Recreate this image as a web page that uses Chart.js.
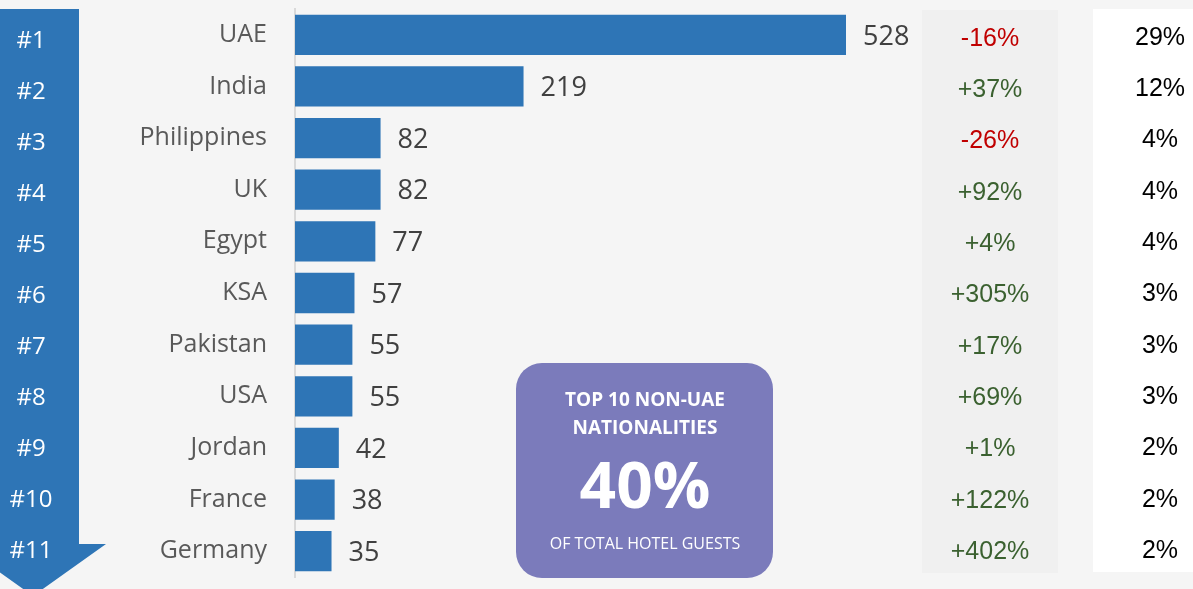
<!DOCTYPE html>
<html>
<head>
<meta charset="utf-8">
<script src="https://cdn.jsdelivr.net/npm/chart.js@4/dist/chart.umd.min.js"></script>
<style>
  html, body { margin: 0; padding: 0; background: #f5f5f5; }
  #wrap { width: 1193px; height: 589px; position: relative; }
</style>
</head>
<body>
<div id="wrap"><canvas id="bar-chart"></canvas></div>
<script>
const countries = ["UAE", "India", "Philippines", "UK", "Egypt", "KSA", "Pakistan", "USA", "Jordan", "France", "Germany"];
const guests = [528, 219, 82, 82, 77, 57, 55, 55, 42, 38, 35];
const changes = ["-16%", "+37%", "-26%", "+92%", "+4%", "+305%", "+17%", "+69%", "+1%", "+122%", "+402%"];
const shares = ["29%", "12%", "4%", "4%", "4%", "3%", "3%", "3%", "2%", "2%", "2%"];
const ranks = ["#1", "#2", "#3", "#4", "#5", "#6", "#7", "#8", "#9", "#10", "#11"];

const BLUE = "#2e75b6";

// background, arrow, side columns and the purple call-out
const extras = {
  id: "extras",
  beforeDraw(chart) {
    const { ctx } = chart;
    ctx.save();
    ctx.fillStyle = "#f5f5f5";
    ctx.fillRect(0, 0, chart.width, chart.height);

    // change column + share column
    ctx.fillStyle = "#f0f0f0";
    ctx.fillRect(922, 10, 136, 563);
    ctx.fillStyle = "#ffffff";
    ctx.fillRect(1093, 9, 100, 563);

    // rank arrow
    ctx.fillStyle = BLUE;
    ctx.beginPath();
    ctx.moveTo(0, 9);
    ctx.lineTo(79, 9);
    ctx.lineTo(79, 544);
    ctx.lineTo(106, 544);
    ctx.lineTo(33, 596);
    ctx.lineTo(-40, 544);
    ctx.closePath();
    ctx.fill();
    ctx.restore();
  },
  afterDraw(chart) {
    const { ctx } = chart;
    const yScale = chart.scales.y;
    const meta = chart.getDatasetMeta(0);
    ctx.save();
    ctx.textBaseline = "middle";

    guests.forEach((v, i) => {
      const y = yScale.getPixelForValue(i);
      const bar = meta.data[i];

      // rank labels sit on a slightly tighter pitch than the bars
      ctx.textAlign = "center";
      ctx.fillStyle = "#ffffff";
      ctx.font = "24px 'Open Sans'";
      ctx.fillText(ranks[i], 31, y + 6 - i * 0.6);

      ctx.textAlign = "left";
      ctx.fillStyle = "#404040";
      ctx.font = "27px 'Open Sans'";
      ctx.fillText(String(v), bar.x + 17, y + 2);

      ctx.textAlign = "center";
      ctx.font = "25px 'Liberation Sans'";
      ctx.fillStyle = changes[i].startsWith("-") ? "#c00000" : "#3b6130";
      ctx.fillText(changes[i], 990, y + 4 - i * 0.3);

      ctx.fillStyle = "#000000";
      ctx.fillText(shares[i], 1160, y + 3 - i * 0.3);
    });

    // call-out box
    ctx.fillStyle = "#7b7bbb";
    ctx.beginPath();
    ctx.roundRect(516, 363, 257, 215, 26);
    ctx.fill();
    ctx.fillStyle = "#ffffff";
    ctx.textAlign = "center";
    ctx.font = "bold 19px 'Open Sans'";
    ctx.fillText("TOP 10 NON-UAE", 645, 401);
    ctx.fillText("NATIONALITIES", 645, 429);
    ctx.font = "bold 64px 'Open Sans'";
    ctx.fillText("40%", 645, 490);
    ctx.font = "16px 'Open Sans'";
    ctx.fillText("OF TOTAL HOTEL GUESTS", 645, 544);
    ctx.restore();
  }
};

new Chart(document.getElementById("bar-chart"), {
  type: "bar",
  data: {
    labels: countries,
    datasets: [
      {
        data: guests,
        backgroundColor: BLUE,
        barPercentage: 0.78,
        categoryPercentage: 1,
      },
    ],
  },
  options: {
    indexAxis: "y",
    responsive: true,
    maintainAspectRatio: false,
    animation: false,
    layout: { padding: { left: 0, right: 347, top: 9, bottom: 12 } },
    plugins: {
      legend: { display: false },
      tooltip: { enabled: false },
    },
    scales: {
      x: {
        display: false,
        min: 0,
        max: 528,
      },
      y: {
        grid: { display: false, drawTicks: false },
        border: { display: true, color: "#d9d9d9", width: 2 },
        afterFit: (scale) => {
          scale.width = 295;
          scale.paddingTop = 0;
          scale.paddingBottom = 0;
        },
        ticks: {
          padding: 28,
          color: "#595959",
          font: { family: "'Open Sans'", size: 25 },
        },
      },
    },
  },
  plugins: [extras],
});
</script>
</body>
</html>
